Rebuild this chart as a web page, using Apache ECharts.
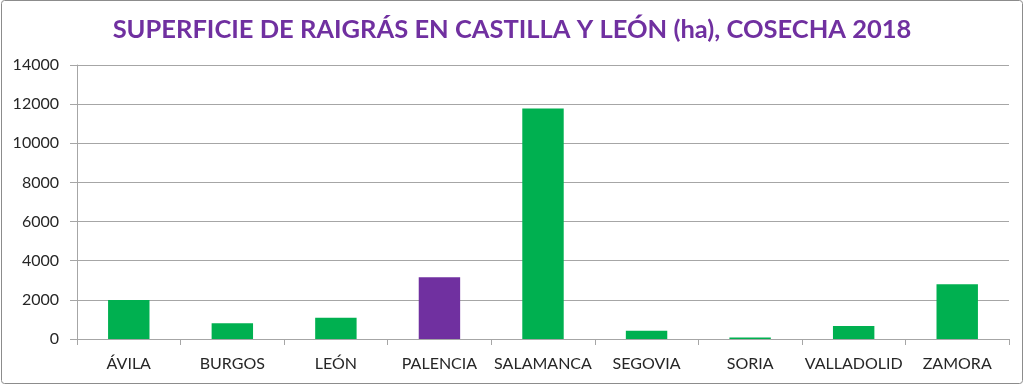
<!DOCTYPE html>
<html>
<head>
<meta charset="utf-8">
<script src="https://cdn.jsdelivr.net/npm/echarts@6/dist/echarts.min.js"></script>
<style>
html,body{margin:0;padding:0;background:#fff;}
#chart{width:1024px;height:385px;}
</style>
</head>
<body>
<div id="chart"></div>
<script>
const titleText = 'SUPERFICIE DE RAIGRÁS EN CASTILLA Y LEÓN (ha), COSECHA 2018';
const categories = ['ÁVILA','BURGOS','LEÓN','PALENCIA','SALAMANCA','SEGOVIA','SORIA','VALLADOLID','ZAMORA'];
const values = [1990, 810, 1090, 3150, 11780, 425, 80, 665, 2795];
const highlighted = ['PALENCIA'];
const yTicks = {min: 0, max: 14000, interval: 2000};

const green = '#00B050';
const purple = '#7030A0';

const chart = echarts.init(document.getElementById('chart'));
chart.setOption({
  animation: false,
  textStyle: {fontFamily: 'Lato'},
  title: {
    text: titleText,
    left: 'center',
    top: 12,
    textStyle: {fontFamily: 'Lato', fontWeight: 'bold', fontSize: 25.5, color: purple}
  },
  graphic: [{
    type: 'rect',
    shape: {x: 1.5, y: 0.5, width: 1021, height: 383, r: 3},
    style: {fill: 'none', stroke: '#8c8c8c', lineWidth: 1},
    silent: true
  }],
  grid: {left: 77, right: 15, top: 65, bottom: 46},
  xAxis: {
    type: 'category',
    data: categories,
    axisLine: {lineStyle: {color: '#a6a6a6', width: 1}},
    axisTick: {show: true, length: 6, lineStyle: {color: '#a6a6a6'}},
    axisLabel: {color: '#262626', fontSize: 16, margin: 17, interval: 0, fontFamily: 'Lato'}
  },
  yAxis: {
    type: 'value',
    min: yTicks.min, max: yTicks.max, interval: yTicks.interval,
    axisLine: {show: true, lineStyle: {color: '#a6a6a6', width: 1}},
    axisTick: {show: true, length: 7, lineStyle: {color: '#a6a6a6'}},
    splitLine: {lineStyle: {color: '#a6a6a6', width: 1}},
    axisLabel: {color: '#262626', fontSize: 16, margin: 18, fontFamily: 'Lato',
      formatter: v => String(v)}
  },
  series: [{
    type: 'bar',
    barCategoryGap: '60%',
    data: categories.map((c, i) => ({
      value: values[i],
      itemStyle: {color: highlighted.includes(c) ? purple : green}
    }))
  }]
});
</script>
</body>
</html>
